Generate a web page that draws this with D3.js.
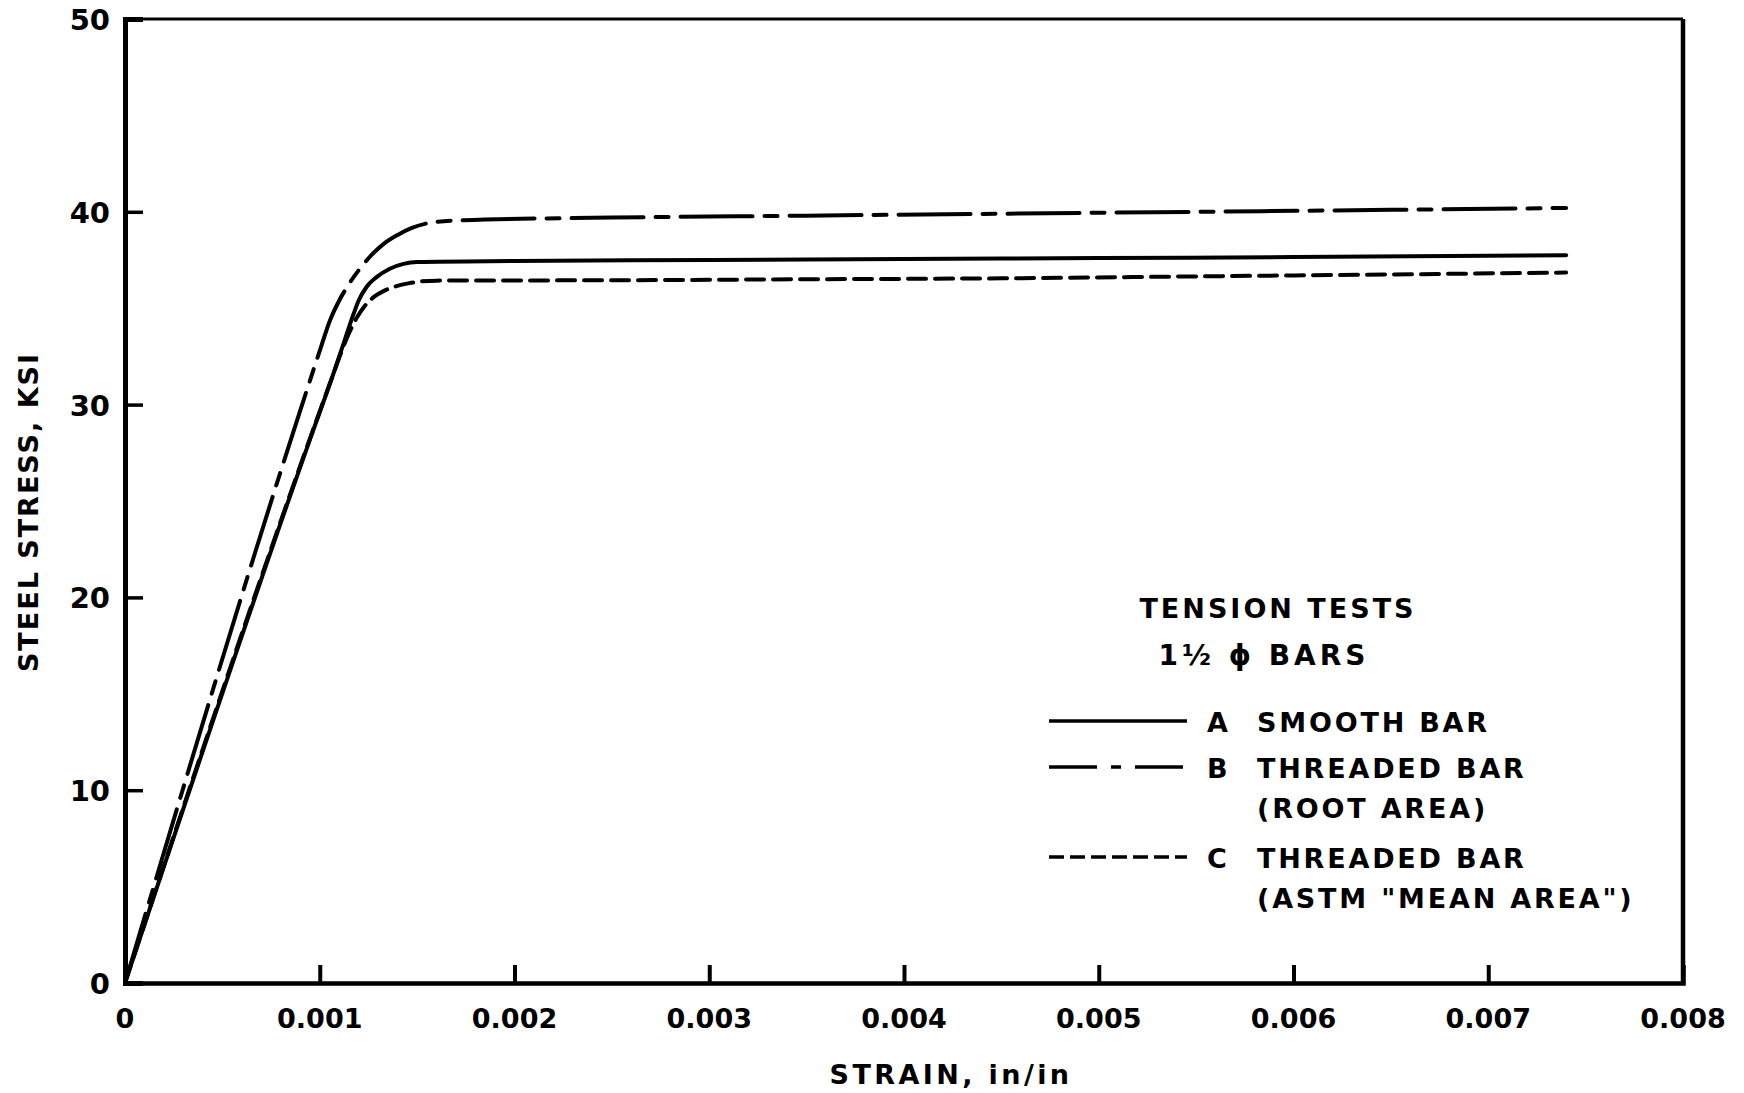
<!DOCTYPE html>
<html><head><meta charset="utf-8">
<script src="https://cdn.jsdelivr.net/npm/d3@7"></script>
<style>
html,body{margin:0;padding:0;background:#fff;}
text{font-family:"DejaVu Sans",sans-serif;font-weight:bold;fill:#000;}
</style></head>
<body>
<svg id="chart" width="1744" height="1093"></svg>
<script>
// ---- data ----
const xTicks = [0, 0.001, 0.002, 0.003, 0.004, 0.005, 0.006, 0.007, 0.008];
const xTickLabels = ["0", "0.001", "0.002", "0.003", "0.004", "0.005", "0.006", "0.007", "0.008"];
const yTicks = [0, 10, 20, 30, 40, 50];
const yTickLabels = ["0", "10", "20", "30", "40", "50"];

const smoothStrain = [0, 0.00095, 0.00107, 0.00113, 0.00117, 0.0012, 0.00124, 0.00129, 0.00136, 0.00143, 0.0015, 0.002, 0.003, 0.004, 0.005, 0.006, 0.0074];
const smoothStress = [0, 28.2, 31.6, 33.4, 34.6, 35.4, 36.1, 36.6, 37.05, 37.3, 37.4, 37.45, 37.5, 37.55, 37.6, 37.65, 37.75];

const rootStrain = [0, 0.0009, 0.00101, 0.00105, 0.0011, 0.00115, 0.00121, 0.00127, 0.00133, 0.0014, 0.00147, 0.00155, 0.0017, 0.0025, 0.0035, 0.0045, 0.0055, 0.0065, 0.0074];
const rootStress = [0, 29.7, 33.1, 34.3, 35.4, 36.25, 37.1, 37.8, 38.35, 38.8, 39.15, 39.4, 39.55, 39.7, 39.8, 39.9, 40.0, 40.1, 40.2];

const meanStrain = [0, 0.00107, 0.00111, 0.00115, 0.00119, 0.00123, 0.00128, 0.00133, 0.00138, 0.00146, 0.0016, 0.0025, 0.0035, 0.0045, 0.0055, 0.0065, 0.0074];
const meanStress = [0, 31.6, 32.7, 33.7, 34.5, 35.1, 35.6, 35.9, 36.1, 36.3, 36.43, 36.45, 36.5, 36.55, 36.65, 36.75, 36.85];

const seriesNames = ["A", "B", "C"];
const legendLines = [["SMOOTH BAR"], ["THREADED BAR", "(ROOT AREA)"], ["THREADED BAR", "(ASTM \"MEAN AREA\")"]];
const legendTitle = ["TENSION TESTS", "1\u00BD \u03D5  BARS"];

// ---- layout ----
const L = 125, R = 1683, T = 19, B = 983;
const svg = d3.select("#chart");
const x = d3.scaleLinear().domain([0, 0.008]).range([L, R]);
const y = d3.scaleLinear().domain([0, 50]).range([B, T]);

const styles = {
  A: {dash: null},
  B: {dash: "72,12,13,12"},
  C: {dash: "18,9"}
};

// frame
svg.append("line").attr("x1", L).attr("x2", R).attr("y1", T).attr("y2", T).attr("stroke", "#000").attr("stroke-width", 3);
svg.append("line").attr("x1", R).attr("x2", R).attr("y1", T).attr("y2", B).attr("stroke", "#000").attr("stroke-width", 4.5);

// axes
const xAxis = d3.axisBottom(x).tickValues(xTicks.slice(1, -1)).tickSize(-18).tickFormat("");
svg.append("g").attr("transform", `translate(0,${B})`).call(xAxis)
  .call(g => { g.select(".domain").attr("stroke-width", 4.5); g.selectAll(".tick line").attr("stroke-width", 4); });
const yAxis = d3.axisLeft(y).tickValues(yTicks.slice(1, -1)).tickSize(-18).tickFormat("");
svg.append("g").attr("transform", `translate(${L},0)`).call(yAxis)
  .call(g => { g.select(".domain").attr("stroke-width", 5); g.selectAll(".tick line").attr("stroke-width", 3.5); });

// tick labels
svg.append("g").selectAll("text").data(xTicks).join("text")
  .attr("x", d => x(d)).attr("y", 1028).attr("text-anchor", "middle")
  .attr("font-size", 27).text((d, i) => xTickLabels[i]);
svg.append("g").selectAll("text").data(yTicks).join("text")
  .attr("x", 110).attr("y", d => y(d) + 11).attr("text-anchor", "end")
  .attr("font-size", 29).text((d, i) => yTickLabels[i]);

// axis titles
svg.append("text").attr("x", 951).attr("y", 1084).attr("text-anchor", "middle")
  .attr("font-size", 27).attr("letter-spacing", 3.4).text("STRAIN,  in/in");
svg.append("text").attr("transform", "translate(38,512) rotate(-90)").attr("text-anchor", "middle")
  .attr("font-size", 27).attr("letter-spacing", 2).text("STEEL  STRESS,  KSI");

// curves
const line = d3.line().x(d => x(d[0])).y(d => y(d[1])).curve(d3.curveMonotoneX);
const curves = [
  {name: "A", data: d3.zip(smoothStrain, smoothStress)},
  {name: "B", data: d3.zip(rootStrain, rootStress)},
  {name: "C", data: d3.zip(meanStrain, meanStress)}
];
svg.append("g").selectAll("path").data(curves).join("path")
  .attr("d", d => line(d.data)).attr("fill", "none").attr("stroke", "#000")
  .attr("stroke-width", 4).attr("stroke-linecap", "round")
  .attr("stroke-dasharray", d => styles[d.name].dash);

// legend
const lg = svg.append("g");
lg.append("text").attr("x", 1278).attr("y", 618).attr("text-anchor", "middle")
  .attr("font-size", 27).attr("letter-spacing", 3).text(legendTitle[0]);
lg.append("text").attr("x", 1264).attr("y", 665).attr("text-anchor", "middle")
  .attr("font-size", 28).attr("letter-spacing", 4).text(legendTitle[1]);
const rowY = [721, 767, 857];
seriesNames.forEach((n, i) => {
  lg.append("line").attr("x1", 1049).attr("x2", 1187).attr("y1", rowY[i]).attr("y2", rowY[i])
    .attr("stroke", "#000").attr("stroke-width", 3.5)
    .attr("stroke-dasharray", n === "B" ? "48,14,10,14" : (n === "C" ? "15,6" : null));
  lg.append("text").attr("x", 1207).attr("y", rowY[i] + 11).attr("font-size", 27).text(n);
  legendLines[i].forEach((t, j) => {
    lg.append("text").attr("x", 1257).attr("y", rowY[i] + 11 + j * 40)
      .attr("font-size", 27).attr("letter-spacing", 2.8).text(t);
  });
});
</script>
</body></html>
